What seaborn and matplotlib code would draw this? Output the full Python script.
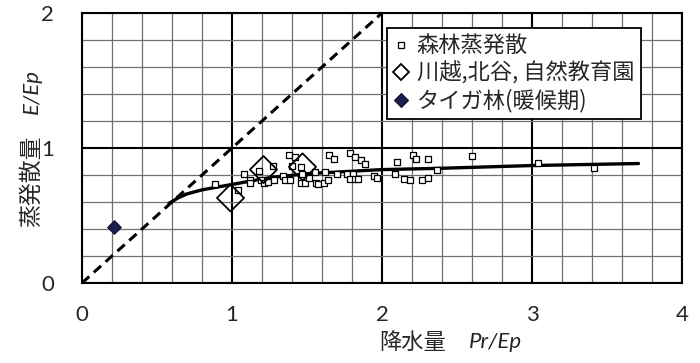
import matplotlib
matplotlib.use("Agg")
import matplotlib.pyplot as plt
import seaborn as sns
import pandas as pd
from matplotlib.lines import Line2D
from matplotlib.ticker import MultipleLocator

# ---- data ----
forest_x = [0.89, 1.04, 1.08, 1.12, 1.12, 1.18, 1.19, 1.21, 1.24, 1.27, 1.28, 1.34, 1.35,
            1.38, 1.42, 1.40, 1.39, 1.46, 1.46, 1.47, 1.46, 1.49, 1.51, 1.55, 1.56, 1.57,
            1.61, 1.64, 1.62, 1.65, 1.68, 1.70, 1.77, 1.79, 1.82, 1.86, 1.89, 1.81, 1.79,
            1.82, 1.84, 1.95, 1.97, 2.10, 2.09, 2.15, 2.19, 2.21, 2.23, 2.31, 2.27, 2.31,
            2.37, 2.60, 3.04, 3.41]
forest_y = [0.73, 0.69, 0.81, 0.76, 0.74, 0.83, 0.76, 0.74, 0.75, 0.87, 0.76, 0.79, 0.76,
            0.95, 0.93, 0.87, 0.76, 0.86, 0.76, 0.81, 0.74, 0.74, 0.78, 0.82, 0.74, 0.73,
            0.74, 0.76, 0.82, 0.95, 0.92, 0.81, 0.81, 0.96, 0.93, 0.91, 0.88, 0.81, 0.77,
            0.77, 0.77, 0.79, 0.78, 0.90, 0.81, 0.77, 0.76, 0.95, 0.92, 0.92, 0.76, 0.78,
            0.84, 0.94, 0.89, 0.85]
kawagoe_x = [0.99, 1.21, 1.47]
kawagoe_y = [0.63, 0.84, 0.86]
taiga_x = [0.21]
taiga_y = [0.415]
curve_x = [0.58, 0.64, 0.70, 0.80, 0.90, 1.00, 1.25, 1.50, 2.00, 2.40, 3.00, 3.71]
curve_y = [0.59, 0.63, 0.66, 0.69, 0.71, 0.73, 0.78, 0.81, 0.84, 0.85, 0.87, 0.885]
line11_x = [0, 2]
line11_y = [0, 2]

labels = ["森林蒸発散", "川越,北谷, 自然教育園", "タイガ林(暖候期)"]
xticks = [0, 1, 2, 3, 4]
yticks = [0, 1, 2]

sns.set_theme(style="white")
plt.rcParams['font.family'] = ['Noto Sans CJK JP', 'DejaVu Sans']

fig = plt.figure(figsize=(7, 3.63), dpi=100)
ax = fig.add_axes([82/700, 1-283/363, 600/700, 270/363])

ax.set_xlim(0, 4)
ax.set_ylim(0, 2)
ax.xaxis.set_major_locator(MultipleLocator(1))
ax.yaxis.set_major_locator(MultipleLocator(1))
ax.xaxis.set_minor_locator(MultipleLocator(0.2))
ax.yaxis.set_minor_locator(MultipleLocator(0.2))
ax.grid(which='minor', color='#707070', linewidth=0.9, zorder=0)
ax.grid(which='major', color='black', linewidth=1.5, zorder=0)
ax.set_axisbelow(True)
for s in ax.spines.values():
    s.set_color('black')
    s.set_linewidth(1.5)

sns.lineplot(x=line11_x, y=line11_y, ax=ax, color='black', linewidth=2.2,
             linestyle=(0, (3.2, 2.0)), zorder=3)
sns.lineplot(x=curve_x, y=curve_y, ax=ax, color='black', linewidth=2.4, zorder=3,
             sort=False)
sns.scatterplot(x=forest_x, y=forest_y, ax=ax, marker='s', s=22, facecolor='white',
                edgecolor='black', linewidth=0.9, zorder=4)
sns.scatterplot(x=kawagoe_x, y=kawagoe_y, ax=ax, marker='D', s=190, facecolor='none',
                edgecolor='black', linewidth=1.3, zorder=5)
sns.scatterplot(x=taiga_x, y=taiga_y, ax=ax, marker='D', s=48, color='#1e1e50',
                edgecolor='#10102a', linewidth=0.8, zorder=5)

ax.set_xticks(xticks)
ax.set_yticks(yticks)
ax.set_xticklabels([str(v) for v in xticks])
ax.set_yticklabels([str(v) for v in yticks])
ax.tick_params(axis='both', which='both', length=0, labelsize=16)
ax.tick_params(axis='x', pad=16)
ax.tick_params(axis='y', pad=20)
for t in ax.get_xticklabels() + ax.get_yticklabels():
    t.set_fontfamily(['Lato', 'DejaVu Sans'])
ax.set_xlabel('')
ax.set_ylabel('')

# axis labels with italic parts
fig.text(413/700, 1-342/363, '降水量', ha='center', va='center', fontsize=16)
fig.text(495/700, 1-342/363, 'Pr/Ep', ha='center', va='center', fontsize=16,
         fontstyle='italic', family=['Lato', 'DejaVu Sans'])
fig.text(31/700, 1-181/363, '蒸発散量', ha='center', va='center', fontsize=16.5,
         rotation=90)
fig.text(32/700, 1-92/363, 'E/Ep', ha='center', va='center', fontsize=16,
         rotation=90, fontstyle='italic', family=['Lato', 'DejaVu Sans'])

handles = [
    Line2D([], [], linestyle='none', marker='s', markersize=4.5, markerfacecolor='white',
           markeredgecolor='black', markeredgewidth=0.9),
    Line2D([], [], linestyle='none', marker='D', markersize=8, markerfacecolor='white',
           markeredgecolor='black', markeredgewidth=1.3),
    Line2D([], [], linestyle='none', marker='D', markersize=7, markerfacecolor='#1e1e50',
           markeredgecolor='#10102a', markeredgewidth=0.8),
]
leg = ax.legend(handles, labels, loc='upper left', bbox_to_anchor=(0.508, 0.944),
                borderaxespad=0, fontsize=16, frameon=True, fancybox=False,
                handlelength=0.7, handletextpad=0.35, labelspacing=0.18,
                borderpad=0.3, framealpha=1)
leg.get_frame().set_edgecolor('black')
leg.get_frame().set_linewidth(1.3)
leg.set_zorder(10)

fig.savefig('out.png', dpi=100)
